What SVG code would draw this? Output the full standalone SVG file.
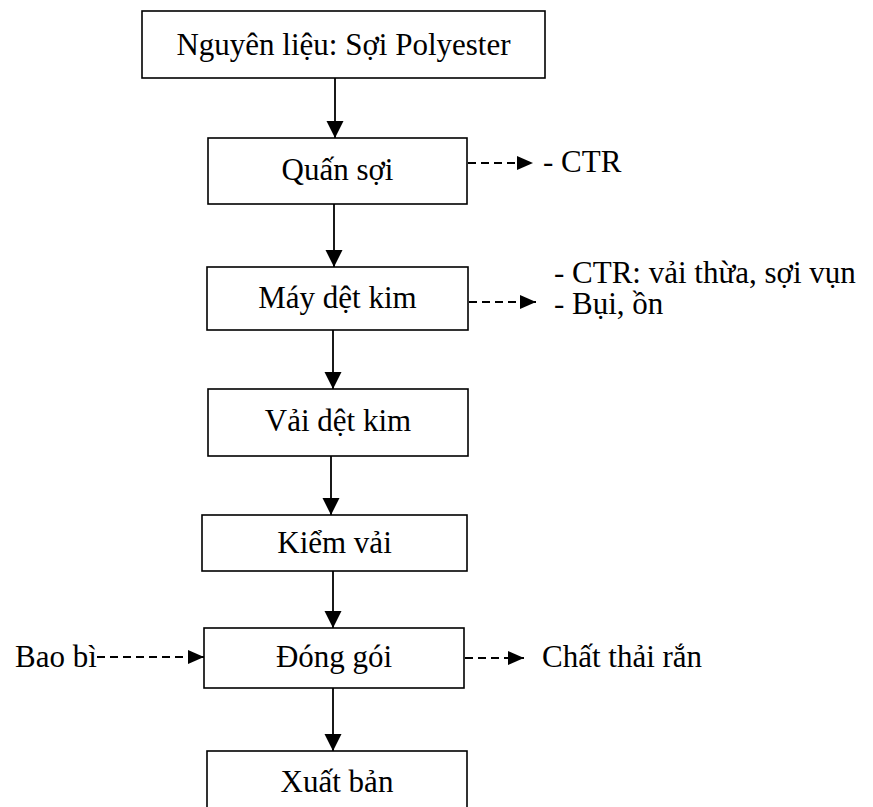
<svg xmlns="http://www.w3.org/2000/svg" width="873" height="807" viewBox="0 0 873 807">
  <defs>
    <style>
      .box { fill: #ffffff; stroke: #000000; stroke-width: 1.6; }
      .label { font-family: "Liberation Serif", "Times New Roman", serif; font-size: 31px; fill: #000000; }
      .mid { text-anchor: middle; }
      .flow { stroke: #000000; stroke-width: 1.8; fill: none; }
      .waste { stroke: #000000; stroke-width: 2; fill: none; stroke-dasharray: 8 5; }
    </style>
    <marker id="head" markerUnits="userSpaceOnUse" markerWidth="18" markerHeight="18" refX="17" refY="8.5" orient="auto">
      <path d="M0,0 L17,8.5 L0,17 Z" fill="#000000"/>
    </marker>
    <marker id="headSmall" markerUnits="userSpaceOnUse" markerWidth="17" markerHeight="15" refX="16" refY="7" orient="auto">
      <path d="M0,0 L16,7 L0,14 Z" fill="#000000"/>
    </marker>
  </defs>

  <rect width="873" height="807" fill="#ffffff"/>

  <!-- process steps -->
  <g id="nguyen-lieu">
    <rect class="box" x="142" y="11" width="403" height="67"/>
    <text class="label mid" x="343.5" y="55">Nguyên liệu: Sợi Polyester</text>
  </g>
  <g id="quan-soi">
    <rect class="box" x="208" y="138" width="259" height="66"/>
    <text class="label mid" x="337.5" y="180">Quấn sợi</text>
  </g>
  <g id="may-det-kim">
    <rect class="box" x="207" y="267" width="261" height="63"/>
    <text class="label mid" x="337.5" y="308">Máy dệt kim</text>
  </g>
  <g id="vai-det-kim">
    <rect class="box" x="208" y="389" width="260" height="67"/>
    <text class="label mid" x="338" y="431">Vải dệt kim</text>
  </g>
  <g id="kiem-vai">
    <rect class="box" x="202" y="515" width="265" height="56"/>
    <text class="label mid" x="334.5" y="553">Kiểm vải</text>
  </g>
  <g id="dong-goi">
    <rect class="box" x="204" y="628" width="260" height="60"/>
    <text class="label mid" x="334" y="667">Đóng gói</text>
  </g>
  <g id="xuat-ban">
    <rect class="box" x="207" y="751" width="260" height="70"/>
    <text class="label mid" x="337" y="792">Xuất bản</text>
  </g>

  <!-- inputs and outputs beside the steps -->
  <g id="ctr-quan">
    <text class="label" x="543" y="172">- CTR</text>
  </g>
  <g id="ctr-det">
    <text class="label" x="554" y="283">- CTR: vải thừa, sợi vụn</text>
    <text class="label" x="554" y="314">- Bụi, ồn</text>
  </g>
  <g id="bao-bi">
    <text class="label" x="15" y="667">Bao bì</text>
  </g>
  <g id="chat-thai-ran">
    <text class="label" x="542" y="667">Chất thải rắn</text>
  </g>

  <!-- connectors -->
  <g id="connectors">
    <line class="flow" x1="335" y1="78" x2="335" y2="138" marker-end="url(#head)"/>
    <line class="flow" x1="334" y1="204" x2="334" y2="267" marker-end="url(#head)"/>
    <line class="flow" x1="333" y1="330" x2="333" y2="389" marker-end="url(#head)"/>
    <line class="flow" x1="331" y1="456" x2="331" y2="515" marker-end="url(#head)"/>
    <line class="flow" x1="333" y1="571" x2="333" y2="628" marker-end="url(#head)"/>
    <line class="flow" x1="333" y1="688" x2="333" y2="751" marker-end="url(#head)"/>
    <line class="waste" x1="468" y1="163" x2="533" y2="163" marker-end="url(#headSmall)"/>
    <line class="waste" x1="469" y1="302" x2="536" y2="302" marker-end="url(#headSmall)"/>
    <line class="waste" x1="97" y1="657" x2="204" y2="657" marker-end="url(#headSmall)"/>
    <line class="waste" x1="465" y1="658" x2="524" y2="658" marker-end="url(#headSmall)"/>
  </g>
</svg>
